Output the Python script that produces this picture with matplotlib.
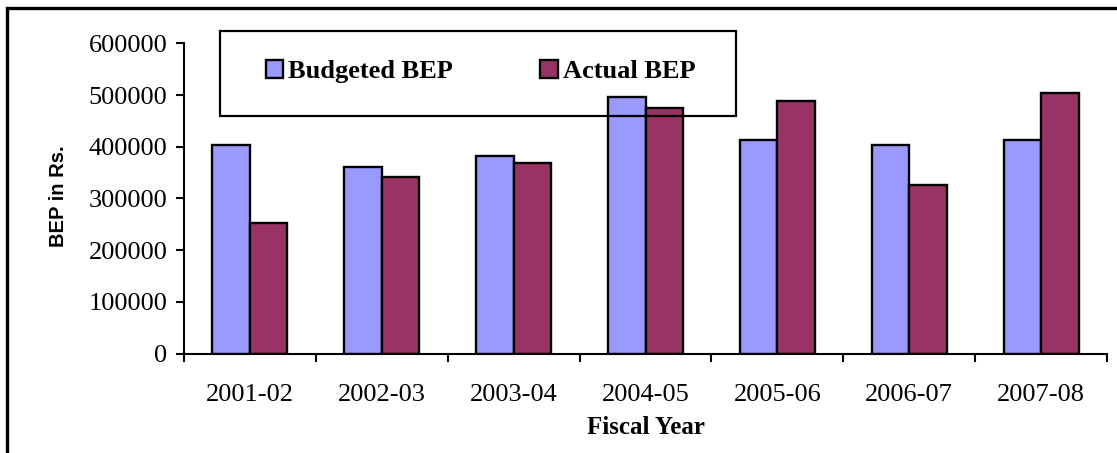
import numpy as np
import matplotlib.pyplot as plt
from matplotlib.patches import Rectangle

# BEP per fiscal year (Rs.)
years = ["2001-02", "2002-03", "2003-04", "2004-05", "2005-06", "2006-07", "2007-08"]
budgeted_bep = [403000, 361000, 382000, 497000, 412000, 404000, 412000]
actual_bep = [253000, 341000, 368000, 475000, 488000, 325000, 504000]

W, H = 1117, 453
serif = "Liberation Serif"

fig = plt.figure(figsize=(W / 100, H / 100), dpi=100)
fig.patch.set_facecolor("white")

ax = fig.add_axes([184 / W, 1 - 353.5 / H, 923 / W, 310.2 / H])

x = np.arange(len(years))
bw = 0.284
ax.bar(x - bw / 2, budgeted_bep, bw, color="#9999FF", edgecolor="black",
       linewidth=1.7, label="Budgeted BEP", zorder=2)
ax.bar(x + bw / 2, actual_bep, bw, color="#993366", edgecolor="black",
       linewidth=1.7, label="Actual BEP", zorder=2)

ax.set_xlim(-0.5, len(years) - 0.5)
ax.set_ylim(0, 600000)
ax.set_yticks(np.arange(0, 600001, 100000))
ax.set_yticklabels([str(v) for v in range(0, 600001, 100000)],
                   fontsize=19, family=serif)

# tick marks on category boundaries, labels at category centres
ax.set_xticks(np.arange(-0.5, len(years), 1.0))
ax.set_xticklabels([])
ax.set_xticks(x, minor=True)
ax.set_xticklabels(years, minor=True, fontsize=19, family=serif)
ax.tick_params(axis="x", which="major", length=6, width=1.5, direction="out")
ax.tick_params(axis="x", which="minor", length=0, pad=22)
ax.tick_params(axis="y", length=6, width=1.5, direction="out", pad=6)

for side in ["top", "right"]:
    ax.spines[side].set_visible(False)
for side in ["left", "bottom"]:
    ax.spines[side].set_linewidth(1.5)

fig.text(645.5 / W, 1 - 427.5 / H, "Fiscal Year", ha="center", va="center",
         fontsize=18, fontweight="bold", family=serif)
fig.text(58 / W, 1 - 196 / H, "BEP in Rs.", ha="center", va="center",
         rotation=90, fontsize=14.5, fontweight="bold", family="Liberation Sans")

# legend box
fig.patches.append(Rectangle((220 / W, 1 - 116 / H), 516 / W, 85 / H,
                             transform=fig.transFigure, fill=False,
                             edgecolor="black", linewidth=1.6, zorder=5))
leg = fig.legend(loc="center left", bbox_to_anchor=(266 / W, 1 - 71.5 / H),
                 ncol=2, frameon=False, borderpad=0, borderaxespad=0,
                 handlelength=0.65, handleheight=0.65, handletextpad=0.2,
                 columnspacing=3.3,
                 prop={"family": serif, "weight": "bold", "size": 19})
for h in leg.legend_handles:
    h.set_linewidth(1.7)

# outer frame
fig.patches.append(Rectangle((7 / W, -0.1), 1.2, 1.1 - 8 / H,
                             transform=fig.transFigure, fill=False,
                             edgecolor="black", linewidth=2.4, zorder=5))

fig.savefig("out.png", dpi=100)
